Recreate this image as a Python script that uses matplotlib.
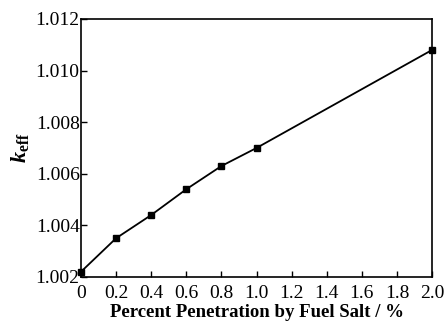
import matplotlib
matplotlib.use('Agg')
import matplotlib.pyplot as plt

plt.rcParams['font.family'] = ['Liberation Serif', 'DejaVu Serif']
plt.rcParams['mathtext.fontset'] = 'custom'
plt.rcParams['mathtext.it'] = 'Liberation Serif:italic:bold'
plt.rcParams['mathtext.rm'] = 'Liberation Serif:bold'

penetration = [0.0, 0.2, 0.4, 0.6, 0.8, 1.0, 2.0]
keff = [1.0022, 1.0035, 1.0044, 1.0054, 1.0063, 1.0070, 1.0108]
xticks = [0, 0.2, 0.4, 0.6, 0.8, 1.0, 1.2, 1.4, 1.6, 1.8, 2.0]
xticklabels = ['0', '0.2', '0.4', '0.6', '0.8', '1.0', '1.2', '1.4', '1.6', '1.8', '2.0']
yticks = [1.002, 1.004, 1.006, 1.008, 1.010, 1.012]

fig = plt.figure(figsize=(4.45, 3.22), dpi=100)
ax = fig.add_axes([0.182, 0.140, 0.789, 0.801])
ax.plot(penetration, keff, color='black', lw=1.3, marker='s', ms=5, clip_on=False)
ax.set_xlim(0, 2.0)
ax.set_ylim(1.002, 1.012)
ax.set_xticks(xticks)
ax.set_xticklabels(xticklabels)
ax.set_yticks(yticks)
ax.set_yticklabels(['%.3f' % v for v in yticks])
ax.tick_params(direction='in', length=4, width=1, labelsize=14)
ax.tick_params(axis='y', pad=1)
ax.tick_params(axis='x', pad=6)
for s in ax.spines.values():
    s.set_linewidth(1.2)
ax.set_xlabel('Percent Penetration by Fuel Salt / %', fontsize=13.5, fontweight='bold', labelpad=1.5)
ax.set_ylabel(r'$k_{\mathrm{eff}}$', fontsize=16, labelpad=3)

fig.savefig('out.png', dpi=100)
